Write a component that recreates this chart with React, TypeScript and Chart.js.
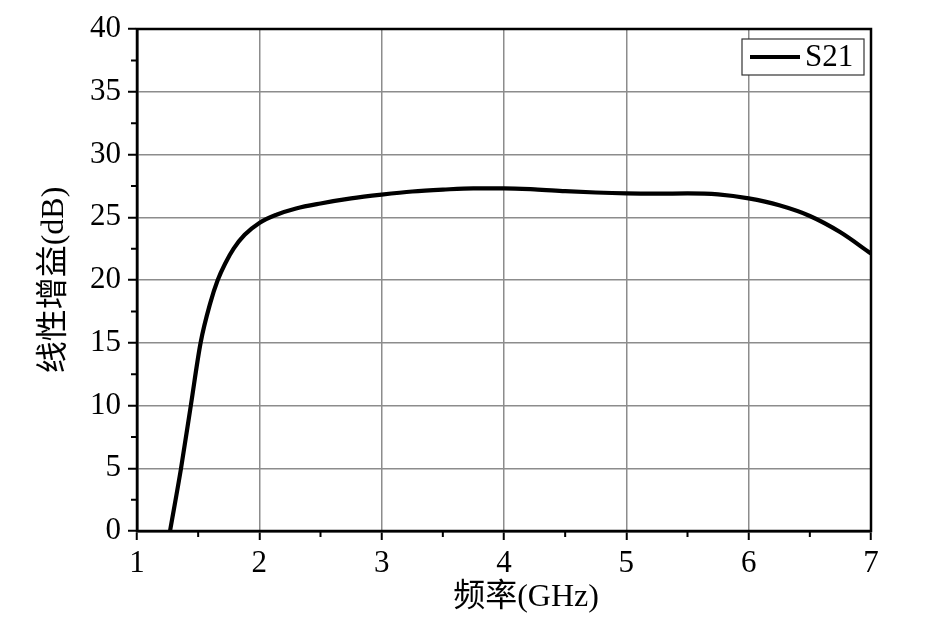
import { useEffect, useRef } from 'react';
import { Chart, registerables } from 'chart.js';

Chart.register(...registerables);

const seriesLabel = 'S21';
const freqGHz = [1.27, 1.36, 1.44, 1.52, 1.6, 1.66, 1.72, 1.79, 1.88, 2.0, 2.14, 2.3, 2.5, 2.75, 3.0, 3.25, 3.5, 3.75, 4.0, 4.25, 4.5, 4.75, 5.0, 5.25, 5.5, 5.75, 6.0, 6.25, 6.5, 6.75, 7.0];
const gainDB = [0, 5, 10, 15, 18.2, 20, 21.3, 22.5, 23.6, 24.55, 25.2, 25.7, 26.1, 26.5, 26.8, 27.05, 27.2, 27.3, 27.3, 27.22, 27.08, 26.97, 26.9, 26.88, 26.9, 26.82, 26.5, 25.95, 25.1, 23.8, 22.1];
const xMinorTicks = [1.5, 2.5, 3.5, 4.5, 5.5, 6.5];
const yMinorTicks = [2.5, 7.5, 12.5, 17.5, 22.5, 27.5, 32.5, 37.5];
const xTitle = '频率(GHz)';
const yTitle = '线性增益(dB)';

const FONT = '"Liberation Serif", "Noto Sans CJK SC", serif';

const framePlugin = {
  id: 'frameAndLegend',
  afterDraw(chart: any) {
    const { ctx, chartArea, scales } = chart;
    const { left, right, top, bottom } = chartArea;
    ctx.save();
    // minor ticks
    ctx.strokeStyle = '#000';
    ctx.lineWidth = 2;
    ctx.beginPath();
    xMinorTicks.forEach((v) => {
      const px = scales.x.getPixelForValue(v);
      ctx.moveTo(px, bottom);
      ctx.lineTo(px, bottom + 6);
    });
    yMinorTicks.forEach((v) => {
      const py = scales.y.getPixelForValue(v);
      ctx.moveTo(left, py);
      ctx.lineTo(left - 6, py);
    });
    ctx.stroke();
    // frame
    ctx.lineWidth = 2.5;
    ctx.strokeRect(left, top, right - left, bottom - top);
    // x-axis title (slightly right of centre, as in the original)
    ctx.fillStyle = '#000';
    ctx.font = '32px ' + FONT;
    ctx.textAlign = 'center';
    ctx.textBaseline = 'middle';
    ctx.fillText(xTitle, (left + right) / 2 + 22, bottom + 67);
    // legend
    const bx = right - 129;
    const by = top + 10;
    const bw = 122;
    const bh = 36;
    ctx.fillStyle = '#fff';
    ctx.fillRect(bx, by, bw, bh);
    ctx.lineWidth = 1.2;
    ctx.strokeStyle = '#333';
    ctx.strokeRect(bx, by, bw, bh);
    ctx.strokeStyle = '#000';
    ctx.lineWidth = 4;
    ctx.beginPath();
    ctx.moveTo(bx + 8, by + bh / 2);
    ctx.lineTo(bx + 58, by + bh / 2);
    ctx.stroke();
    ctx.fillStyle = '#000';
    ctx.font = '31px ' + FONT;
    ctx.textBaseline = 'middle';
    ctx.textAlign = 'left';
    ctx.fillText(chart.data.datasets[0].label, bx + 63, by + bh / 2 + 1);
    ctx.restore();
  },
};

export default function App() {
  const ref = useRef<HTMLCanvasElement | null>(null);
  useEffect(() => {
    if (!ref.current) return;
    const chart = new Chart(ref.current, {
      type: 'line',
      data: {
        datasets: [
          {
            label: seriesLabel,
            data: freqGHz.map((x, i) => ({ x, y: gainDB[i] })),
            borderColor: '#000',
            borderWidth: 4.2,
            pointRadius: 0,
            fill: false,
            cubicInterpolationMode: 'monotone',
          },
        ],
      },
      options: {
        animation: false,
        responsive: true,
        maintainAspectRatio: false,
        layout: { padding: { left: 0, top: 29, right: 60, bottom: 0 } },
        plugins: { legend: { display: false }, tooltip: { enabled: false } },
        scales: {
          x: {
            type: 'linear',
            min: 1,
            max: 7,
            afterFit: (s: any) => {
              s.height = 110;
            },
            ticks: {
              stepSize: 1,
              color: '#000',
              font: { family: FONT, size: 31 },
              padding: 5,
              maxRotation: 0,
            },
            grid: {
              color: '#8c8c8c',
              lineWidth: 1.5,
              drawTicks: true,
              tickLength: 9,
              tickColor: '#000',
              tickWidth: 2,
            },
            border: { display: true, color: '#000', width: 2.5 },
            title: { display: false, text: xTitle },
          },
          y: {
            type: 'linear',
            min: 0,
            max: 40,
            afterFit: (s: any) => {
              s.width = 137;
            },
            ticks: {
              stepSize: 5,
              color: '#000',
              font: { family: FONT, size: 31 },
              padding: 7,
            },
            grid: {
              color: '#8c8c8c',
              lineWidth: 1.5,
              drawTicks: true,
              tickLength: 9,
              tickColor: '#000',
              tickWidth: 2,
            },
            border: { display: true, color: '#000', width: 2.5 },
            title: {
              display: true,
              text: yTitle,
              color: '#000',
              font: { family: FONT, size: 32 },
              padding: { top: 35, bottom: 0 },
            },
          },
        },
      },
      plugins: [framePlugin],
    } as any);
    return () => chart.destroy();
  }, []);
  return (
    <div style={{ position: 'fixed', left: 0, top: 0, width: 931, height: 641, background: '#fff' }}>
      <canvas ref={ref} />
    </div>
  );
}
